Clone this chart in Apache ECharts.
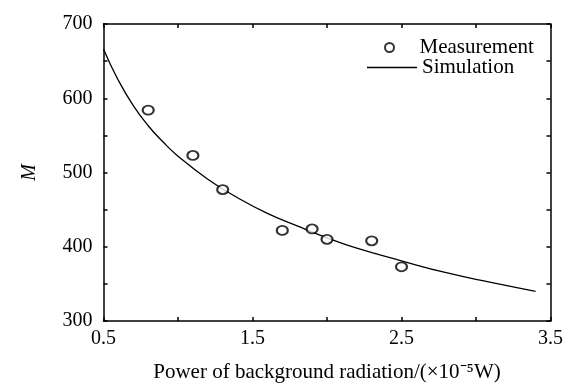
<!DOCTYPE html>
<html>
<head>
<meta charset="utf-8">
<script src="https://cdn.jsdelivr.net/npm/echarts@6/dist/echarts.min.js"></script>
<style>
html, body { margin: 0; padding: 0; background: #fff; }
#chart { width: 567px; height: 384px; }
</style>
</head>
<body>
<div id="chart"></div>
<script>
// measured points
var measX = [0.8, 1.1, 1.3, 1.7, 1.9, 2.0, 2.3, 2.5];
var measM = [584, 523, 477, 422, 424, 410, 408, 373];

// simulated curve
var simX = [0.5, 0.6, 0.7, 0.8, 0.9, 1.0, 1.2, 1.4, 1.6, 1.8, 2.0, 2.2, 2.5, 2.8, 3.1, 3.4];
var simM = [666, 624, 590, 563, 541, 522, 491, 466, 445, 428, 412, 398, 381, 365, 352, 340];

var font = 'Liberation Serif';

var measData = measX.map(function (x, i) { return [x, measM[i]]; });
var simData = simX.map(function (x, i) { return [x, simM[i]]; });

var axisLine = { show: true, onZero: false, lineStyle: { color: '#000', width: 1.5 } };
var tick = { show: true, inside: true, length: 4, lineStyle: { color: '#000', width: 1.5 } };
var legendText = { fontFamily: font, fontSize: 21, color: '#000' };

var myChart = echarts.init(document.getElementById('chart'));
var option = {
	animation: false,
	backgroundColor: '#fff',
	grid: { left: 103.5, right: 16.5, top: 24, bottom: 63, outerBoundsMode: 'none', containLabel: false },
	legend: [
		{
			left: 384,
			top: 37,
			padding: 0,
			itemWidth: 50,
			itemHeight: 9,
			textStyle: legendText,
			data: [{ name: 'Measurement', icon: 'emptyCircle' }]
		},
		{
			left: 367,
			top: 57,
			padding: 0,
			itemWidth: 50,
			itemHeight: 1.5,
			textStyle: legendText,
			data: [{ name: 'Simulation', icon: 'rect' }]
		}
	],
	xAxis: [
		{
			type: 'value',
			min: 0.5,
			max: 3.5,
			interval: 0.5,
			name: 'Power of background radiation/(×10⁻⁵W)',
			nameLocation: 'middle',
			nameGap: 41,
			nameTextStyle: { fontFamily: font, fontSize: 21, color: '#000' },
			axisLine: axisLine,
			axisTick: tick,
			splitLine: { show: false },
			axisLabel: {
				margin: 8,
				fontFamily: font,
				fontSize: 20,
				color: '#000',
				formatter: function (v) {
					return Math.round(v * 10) % 10 === 5 ? v.toFixed(1) : '';
				}
			}
		},
		{
			type: 'value',
			position: 'top',
			min: 0.5,
			max: 3.5,
			interval: 0.5,
			axisLine: axisLine,
			axisTick: tick,
			axisLabel: { show: false },
			splitLine: { show: false }
		}
	],
	yAxis: [
		{
			type: 'value',
			min: 300,
			max: 700,
			interval: 50,
			name: 'M',
			nameLocation: 'middle',
			nameGap: 64,
			nameTextStyle: { fontFamily: font, fontSize: 20, fontStyle: 'italic', color: '#000' },
			axisLine: axisLine,
			axisTick: tick,
			splitLine: { show: false },
			axisLabel: {
				margin: 11,
				fontFamily: font,
				fontSize: 20,
				color: '#000',
				formatter: function (v) {
					return v % 100 === 0 ? String(v) : '';
				}
			}
		},
		{
			type: 'value',
			position: 'right',
			min: 300,
			max: 700,
			interval: 50,
			axisLine: axisLine,
			axisTick: tick,
			axisLabel: { show: false },
			splitLine: { show: false }
		}
	],
	series: [
		{
			name: 'Measurement',
			type: 'scatter',
			symbol: 'emptyCircle',
			symbolSize: [11, 9],
			itemStyle: { color: '#000', borderWidth: 1.5 },
			data: measData,
			z: 3
		},
		{
			name: 'Simulation',
			type: 'line',
			smooth: true,
			symbol: 'none',
			lineStyle: { color: '#000', width: 1.3 },
			itemStyle: { color: '#000' },
			data: simData
		}
	]
};
myChart.setOption(option);
</script>
</body>
</html>
